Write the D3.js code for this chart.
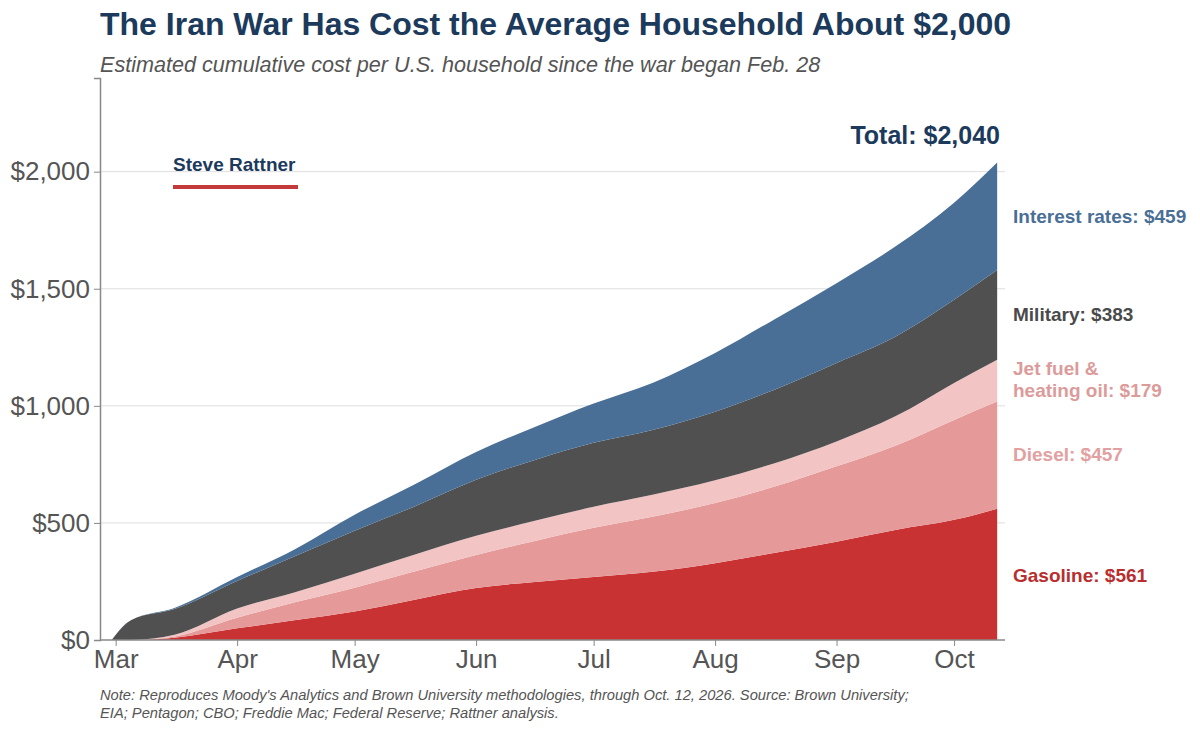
<!DOCTYPE html>
<html>
<head>
<meta charset="utf-8">
<script src="https://cdn.jsdelivr.net/npm/d3@7"></script>
<style>
  body { margin: 0; background: #fff; }
  svg { font-family: "Liberation Sans", Arial, sans-serif; }
</style>
</head>
<body>
<div id="chart"></div>
<script>
// cumulative cost per household, by component
const dates = ["2026-02-28","2026-03-05","2026-03-16","2026-04-01","2026-04-16","2026-05-01","2026-05-16",
  "2026-06-01","2026-06-16","2026-07-01","2026-07-16","2026-08-01","2026-08-16","2026-09-01","2026-09-16",
  "2026-10-01","2026-10-12"];
const gasoline = [0, 0, 10, 50, 85, 122, 171, 222, 248, 269, 291, 328, 371, 420, 470, 513, 561];
const diesel   = [0, 0, 5, 45, 77, 101, 120, 141, 175, 210, 235, 257, 283, 322, 360, 427, 457];
const jetFuel  = [0, 0, 7, 39, 43, 60, 72, 82, 86, 90, 94, 97, 100, 106, 125, 158, 179];
const military = [0, 85, 110, 118, 155, 184, 205, 239, 260, 273, 277, 293, 314, 335, 340, 355, 383];
const interest = [0, 0, 5, 17, 30, 68, 94, 119, 141, 168, 201, 251, 300, 341, 385, 414, 459];

const keys = ["gasoline", "diesel", "jet", "military", "interest"];
const colors = {gasoline: "#c93232", diesel: "#e69999", jet: "#f2c4c4", military: "#505050", interest: "#4a6f96"};
const yTicks = [0, 500, 1000, 1500, 2000];
const monthTicks = ["2026-03-01","2026-04-01","2026-05-01","2026-06-01","2026-07-01","2026-08-01","2026-09-01","2026-10-01"];

const labels = [
  {lines: ["Interest rates: $459"], y: 223, color: "#4a6f96"},
  {lines: ["Military: $383"], y: 321, color: "#4a4a4a"},
  {lines: ["Jet fuel &", "heating oil: $179"], y: 375, color: "#dc9b9b"},
  {lines: ["Diesel: $457"], y: 461, color: "#e2a0a0"},
  {lines: ["Gasoline: $561"], y: 582, color: "#b92e2e"}
];

const parseDate = d3.timeParse("%Y-%m-%d");
const data = dates.map((d, i) => ({
  date: parseDate(d),
  gasoline: gasoline[i], diesel: diesel[i], jet: jetFuel[i], military: military[i], interest: interest[i]
}));

const width = 1200, height = 731;
const svg = d3.select("#chart").append("svg")
  .attr("width", width).attr("height", height);

const x = d3.scaleTime()
  .domain([parseDate("2026-02-25"), parseDate("2026-10-14")])
  .range([100, 1005]);
const y = d3.scaleLinear().domain([0, 2400]).range([640, 78]);

// gridlines
svg.append("g").selectAll("line")
  .data(yTicks.filter(d => d > 0))
  .enter().append("line")
  .attr("x1", 100).attr("x2", 1005)
  .attr("y1", d => y(d)).attr("y2", d => y(d))
  .attr("stroke", "#dedede").attr("stroke-width", 1);

const stack = d3.stack().keys(keys);
const series = stack(data);

const area = d3.area()
  .x(d => x(d.data.date))
  .y0(d => y(d[0]))
  .y1(d => y(d[1]))
  .curve(d3.curveMonotoneX);

svg.append("g").selectAll("path")
  .data(series)
  .enter().append("path")
  .attr("d", area)
  .attr("fill", d => colors[d.key]);

// axes
const yAxis = svg.append("g")
  .attr("transform", "translate(100,0)")
  .call(d3.axisLeft(y).tickValues(yTicks).tickSize(6).tickPadding(4)
    .tickFormat(d => "$" + d3.format(",")(d)));
yAxis.select(".domain").attr("stroke", "#888").attr("stroke-width", 1.5);
yAxis.selectAll(".tick line").attr("stroke", "#888");
yAxis.selectAll(".tick text").attr("fill", "#555").style("font-size", "26px")
  .style("font-family", "Liberation Sans, Arial, sans-serif");

const xAxis = svg.append("g")
  .attr("transform", "translate(0,640)")
  .call(d3.axisBottom(x).tickValues(monthTicks.map(parseDate)).tickSize(6).tickPadding(4)
    .tickFormat(d3.timeFormat("%b")));
xAxis.select(".domain").attr("stroke", "#888").attr("stroke-width", 1.5)
  .attr("d", "M100,0H1005");
xAxis.selectAll(".tick line").attr("stroke", "#888");
xAxis.selectAll(".tick text").attr("fill", "#555").style("font-size", "26px")
  .style("font-family", "Liberation Sans, Arial, sans-serif");

// titles
svg.append("text")
  .attr("x", 100).attr("y", 35)
  .attr("fill", "#1b3a5c")
  .style("font-size", "32px").style("font-weight", "bold")
  .text("The Iran War Has Cost the Average Household About $2,000");

svg.append("text")
  .attr("x", 100).attr("y", 72)
  .attr("fill", "#555")
  .style("font-size", "21.6px").style("font-style", "italic")
  .text("Estimated cumulative cost per U.S. household since the war began Feb. 28");

// byline
svg.append("text")
  .attr("x", 173).attr("y", 171)
  .attr("fill", "#1b3a5c")
  .style("font-size", "19px").style("font-weight", "bold")
  .text("Steve Rattner");
svg.append("line")
  .attr("x1", 173).attr("x2", 298).attr("y1", 187).attr("y2", 187)
  .attr("stroke", "#c43a3a").attr("stroke-width", 4);

// total
svg.append("text")
  .attr("x", 1000).attr("y", 144)
  .attr("text-anchor", "end")
  .attr("fill", "#1b3a5c")
  .style("font-size", "25px").style("font-weight", "bold")
  .text("Total: $2,040");

// series labels
labels.forEach(l => {
  const t = svg.append("text")
    .attr("x", 1013).attr("y", l.y)
    .attr("fill", l.color)
    .style("font-size", "19px").style("font-weight", "bold");
  l.lines.forEach((s, i) => {
    t.append("tspan").attr("x", 1013).attr("dy", i === 0 ? 0 : 22).text(s);
  });
});

// note
const note = svg.append("text")
  .attr("x", 100).attr("y", 700)
  .attr("fill", "#555")
  .style("font-size", "14.7px").style("font-style", "italic");
note.append("tspan").attr("x", 100).attr("dy", 0)
  .text("Note: Reproduces Moody's Analytics and Brown University methodologies, through Oct. 12, 2026. Source: Brown University;");
note.append("tspan").attr("x", 100).attr("dy", 18)
  .text("EIA; Pentagon; CBO; Freddie Mac; Federal Reserve; Rattner analysis.");
</script>
</body>
</html>
